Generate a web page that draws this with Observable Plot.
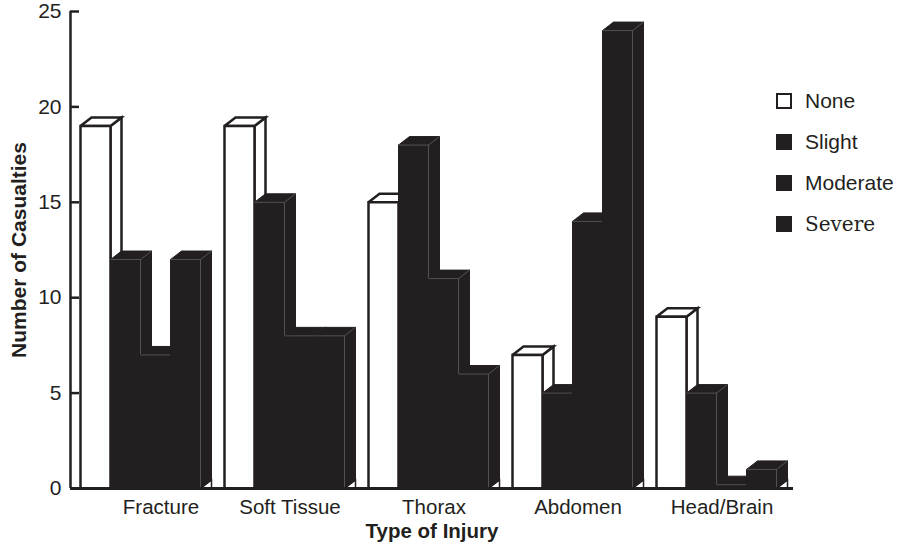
<!DOCTYPE html>
<html><head><meta charset="utf-8">
<script src="https://cdn.jsdelivr.net/npm/d3@7"></script>
<script src="https://cdn.jsdelivr.net/npm/@observablehq/plot@0.6"></script>
<style>
body{margin:0;background:#fff;}
#wrap{position:relative;width:900px;height:548px;font-family:"Liberation Sans",Arial,sans-serif;color:#231f20;}
#chart{position:absolute;left:0;top:0;}
#legend{position:absolute;left:776px;top:80px;}
.row{display:flex;align-items:center;height:41px;font-size:21px;}
.sw{width:16px;height:16px;box-sizing:border-box;margin-right:13px;background:#231f20;}
.sw.none{background:#fff;border:2px solid #231f20;}
.serif{font-family:"DejaVu Serif","Liberation Serif",serif;font-size:20px;}
</style></head><body><div id="wrap"><div id="chart"></div><div id="legend"></div></div>
<script>
// ---- data ----
const categories = ["Fracture", "Soft Tissue", "Thorax", "Abdomen", "Head/Brain"];
const severities = ["None", "Slight", "Moderate", "Severe"];
const noneValues = [19, 19, 15, 7, 9];
const slightValues = [12, 15, 18, 5, 5];
const moderateValues = [7, 8, 11, 14, 0.2];
const severeValues = [12, 8, 6, 24, 1];
const yTicks = [0, 5, 10, 15, 20, 25];

// ---- style / layout constants ----
const ink = "#231f20";
const edge = "#625e5f";
const barW = 1;            // one bar = one x unit
const groupStep = 4.8;     // units between group starts
const firstOffset = 1 / 3; // gap from axis to first bar
const depthX = 11 / 30;    // 3D depth in x units
const depthY = 8.5 / 19.08;// 3D depth in y units
const tickLen = 0.3;
const xMax = 24.1;

const seriesValues = [noneValues, slightValues, moderateValues, severeValues];

// build 3D bar faces from the data
const faces = [];
let fid = 0;
function face(points, fill, stroke, sw) {
  const k = fid++;
  for (const [x, y] of points) faces.push({k, x, y, fill, stroke, sw});
}
categories.forEach((cat, g) => {
  severities.forEach((sev, s) => {
    const v = seriesValues[s][g];
    const x0 = g * groupStep + firstOffset + s * barW, x1 = x0 + barW;
    const light = s === 0;
    const fill = light ? "white" : ink;
    const sw = light ? 2.5 : 1;
    face([[x1, 0], [x1 + depthX, depthY], [x1 + depthX, 0], [x1, 0]], "white", ink, 1.5);
    face([[x1, 0], [x1, v], [x1 + depthX, v + depthY], [x1 + depthX, depthY], [x1, 0]], fill, ink, sw);
    face([[x0, v], [x0 + depthX, v + depthY], [x1 + depthX, v + depthY], [x1, v], [x0, v]], fill, ink, sw);
    face([[x0, 0], [x0, v], [x1, v], [x1, 0], [x0, 0]], fill, ink, sw);
    if (!light) {
      face([[x0, v], [x1, v], [x1, 0]], "none", edge, 0.8);
      face([[x1, v], [x1 + depthX, v + depthY]], "none", edge, 0.8);
    }
  });
});

const centers = categories.map((c, g) => g * groupStep + firstOffset + (severities.length * barW + depthX) / 2);
const labelAt = new Map(centers.map((c, i) => [c, categories[i]]));
const axisText = {tickSize: 0, tickPadding: 11, tickFormat: d => labelAt.get(d), fontSize: 20.5, label: null};

const chart = Plot.plot({
  width: 900, height: 548,
  marginLeft: 70, marginRight: 900 - 793, marginTop: 11, marginBottom: 60,
  x: {domain: [0, xMax], axis: null},
  y: {domain: [0, 25], axis: null},
  color: {type: "identity"},
  style: {fontFamily: '"Liberation Sans", Arial, sans-serif', fontSize: "21px", color: ink, background: "white"},
  marks: [
    Plot.line(faces, {x: "x", y: "y", z: "k", fill: "fill", stroke: "stroke", strokeWidth: "sw",
      strokeLinejoin: "miter", strokeLinecap: "butt", strokeMiterlimit: 10, curve: "linear"}),
    Plot.ruleX([0], {y1: 0, y2: 25, stroke: ink, strokeWidth: 2.5}),
    Plot.ruleY(yTicks, {x1: 0, x2: tickLen, stroke: ink, strokeWidth: 2.5}),
    Plot.ruleY([0], {x1: 0, x2: xMax, stroke: ink, strokeWidth: 3}),
    Plot.axisY(yTicks, {tickSize: 0, tickPadding: 9, fontSize: 21, label: null}),
    Plot.axisX(centers.slice(0, 1), {...axisText, dx: 15}),
    Plot.axisX(centers.slice(1), axisText),
    Plot.text(["Number of Casualties"], {text: d => d, frameAnchor: "left", textAnchor: "middle", rotate: -90, dx: -51, fontWeight: "bold", fontSize: 21, fill: ink}),
    Plot.text(["Type of Injury"], {text: d => d, frameAnchor: "bottom", textAnchor: "middle", dy: 49, fontWeight: "bold", fontSize: 20.5, fill: ink})
  ]
});
document.getElementById("chart").appendChild(chart);

// legend
const legend = document.getElementById("legend");
severities.forEach((sev, s) => {
  const row = document.createElement("div");
  row.className = "row";
  const sw = document.createElement("span");
  sw.className = "sw" + (s === 0 ? " none" : "");
  const tx = document.createElement("span");
  tx.textContent = sev;
  if (sev === "Severe") {
    tx.className = "serif";
    tx.style.fontFamily = '"DejaVu Serif", "Liberation Serif", serif';
  }
  row.appendChild(sw); row.appendChild(tx);
  legend.appendChild(row);
});
</script></body></html>
